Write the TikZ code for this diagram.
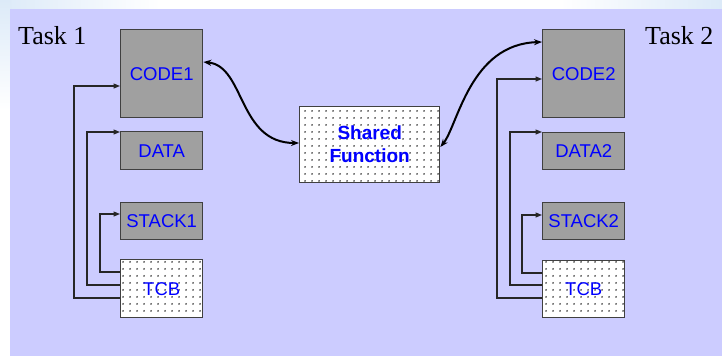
\documentclass[tikz,border=0pt]{standalone}
\usepackage{fontspec}
\setmainfont{Liberation Serif}
\newfontfamily\arialf{Liberation Sans}
\usetikzlibrary{arrows.meta,patterns.meta}

\definecolor{slidebg}{HTML}{CCCCFF}
\definecolor{boxgray}{HTML}{A0A0A0}
\definecolor{boxline}{HTML}{404040}
\definecolor{paleblue}{HTML}{DCEAF8}

\tikzset{
  memblock/.style={draw=boxline, line width=1.4pt, fill=boxgray, text=blue,
    font=\arialf\fontsize{18.5}{20}\selectfont, anchor=north west, inner sep=0pt,
    align=center},
  dotblock/.style={memblock, fill=white,
    postaction={pattern={Dots[distance=6.5pt, radius=1pt]}, pattern color=black!75}},
  link/.style={draw=black!85, line width=1.1pt,
    -{Triangle[length=6.5pt, width=5pt]}},
  callarc/.style={draw=black, line width=2pt,
    {Stealth[length=8pt, width=6pt]}-{Stealth[length=8pt, width=6pt]}},
  tasklabel/.style={font=\fontsize{26}{28}\selectfont, anchor=base west, inner sep=0pt}
}

\begin{document}
\begin{tikzpicture}[x=1pt, y=-1pt]
  \useasboundingbox (0,0) rectangle (722,356);

  % slide backdrop
  \fill[white] (0,0) rectangle (722,356);
  \shade[left color=paleblue, right color=white] (0,0) rectangle (160,9);
  \shade[left color=white, right color=paleblue] (560,0) rectangle (722,9);
  \shade[top color=paleblue, bottom color=white] (0,0) rectangle (10,110);
  \fill[slidebg] (10,9) rectangle (722,356);

  % task titles
  \node[tasklabel] (t1) at (18,44) {Task 1};
  \node[tasklabel] (t2) at (645,44) {Task 2};

  % task 1 memory blocks
  \node[memblock, minimum width=82pt, minimum height=88pt] (code1) at (120,29) {CODE1};
  \node[memblock, minimum width=82pt, minimum height=38pt] (data1) at (120,131) {DATA};
  \node[memblock, minimum width=82pt, minimum height=37pt] (stack1) at (120,202) {STACK1};
  \node[dotblock, minimum width=82pt, minimum height=58pt] (tcb1) at (120,259) {TCB};

  % task 2 memory blocks
  \node[memblock, minimum width=82pt, minimum height=88pt] (code2) at (542,29) {CODE2};
  \node[memblock, minimum width=82pt, minimum height=37pt] (data2) at (542,132) {DATA2};
  \node[memblock, minimum width=82pt, minimum height=37pt] (stack2) at (542,202) {STACK2};
  \node[dotblock, minimum width=82pt, minimum height=57pt] (tcb2) at (542,260) {TCB};

  % shared code
  \node[dotblock, minimum width=140pt, minimum height=76pt,
        font=\arialf\bfseries\fontsize{19}{23}\selectfont] (shared) at (299,106) {Shared\\Function};

  % TCB pointers, task 1
  \draw[link] (tcb1.west |- 0,298) -| (74,86) -- (code1.west |- 0,86);
  \draw[link] (tcb1.west |- 0,285) -| (87,132) -- (data1.west |- 0,132);
  \draw[link] (tcb1.west |- 0,272) -| (100,214) -- (stack1.west |- 0,214);

  % TCB pointers, task 2
  \draw[link] (tcb2.west |- 0,298) -| (497,79) -- (code2.west |- 0,79);
  \draw[link] (tcb2.west |- 0,285) -| (510,132) -- (data2.west |- 0,132);
  \draw[link] (tcb2.west |- 0,273) -| (522,215) -- (stack2.west |- 0,215);

  % calls into the shared function
  \draw[callarc] (code1.east |- 0,62) .. controls (245,66) and (238,143) .. (shared.west |- 0,143);
  \draw[callarc] (shared.east |- 0,147) .. controls (458,125) and (470,44) .. (code2.west |- 0,42);
\end{tikzpicture}
\end{document}
